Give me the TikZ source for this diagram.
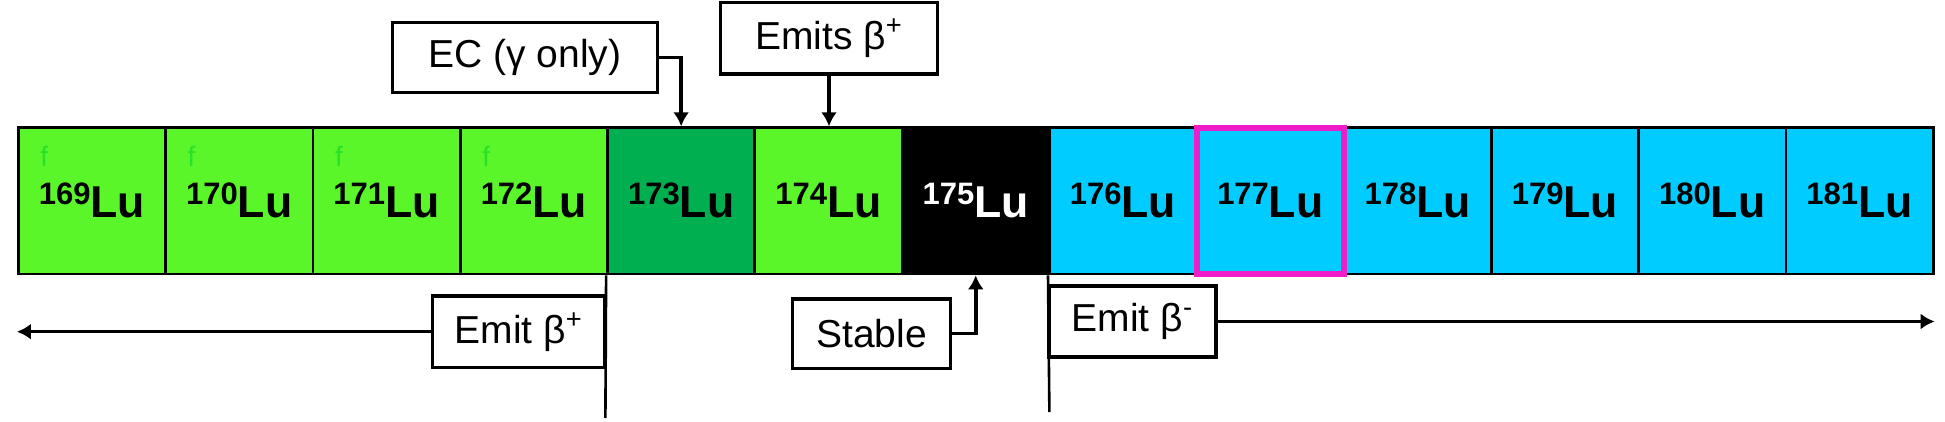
\documentclass[tikz,border=0pt]{standalone}
\usepackage{fontspec}
\setmainfont{Liberation Sans}
\usetikzlibrary{arrows.meta}

\definecolor{vertclair}{RGB}{90,246,42}
\definecolor{vertfonce}{RGB}{0,176,80}
\definecolor{bleuciel}{RGB}{0,204,255}
\definecolor{rose}{RGB}{240,30,200}
\definecolor{vertf}{RGB}{40,225,40}
\newcommand{\iso}[1]{\raisebox{6.5pt}{\fontsize{15.5pt}{16pt}\selectfont\bfseries #1}{\fontsize{22.3pt}{24pt}\selectfont\bfseries Lu}}

\begin{document}
\begin{tikzpicture}[x=0.5pt,y=-0.5pt]
	\tikzstyle{fleche}=[-{Latex[length=7pt,width=8pt]},line width=1.8pt]
	\tikzstyle{bord}=[-,line width=1.3pt]
	\tikzset{noyau/.style={draw,line width=1.4pt,minimum width=73.65pt,minimum height=73.15pt,inner sep=0pt,fill=#1},noyau/.default={vertclair}}
	\tikzset{etiquette/.style={draw,fill=white,line width=1.6pt,inner sep=0pt,font=\fontsize{19.5pt}{21pt}\selectfont}}
	\tikzset{fmark/.style={text=vertf,inner sep=0pt,anchor=base west,font=\fontsize{14pt}{14pt}\selectfont}}
	\useasboundingbox (0,0) rectangle (1945,422);
	% isotopes
	\node[noyau] (c169) at (91.95,200.85) {\iso{169}};
	\node[noyau] (c170) at (239.25,200.85) {\iso{170}};
	\node[noyau] (c171) at (386.55,200.85) {\iso{171}};
	\node[noyau] (c172) at (533.85,200.85) {\iso{172}};
	\node[noyau=vertfonce] (c173) at (681.15,200.85) {\iso{173}};
	\node[noyau] (c174) at (828.45,200.85) {\iso{174}};
	\node[noyau=black,text=white] (c175) at (975.75,200.85) {\iso{175}};
	\node[noyau=bleuciel] (c176) at (1123.05,200.85) {\iso{176}};
	\node[noyau=bleuciel] (c178) at (1417.65,200.85) {\iso{178}};
	\node[noyau=bleuciel] (c179) at (1564.95,200.85) {\iso{179}};
	\node[noyau=bleuciel] (c180) at (1712.25,200.85) {\iso{180}};
	\node[noyau=bleuciel] (c181) at (1859.55,200.85) {\iso{181}};
	\node[noyau=bleuciel,draw=rose,line width=3pt] (c177) at (1270.35,200.85) {\iso{177}};
	\node[fmark] (f169) at (40,167) {f};
	\node[fmark] (f170) at (187.3,167) {f};
	\node[fmark] (f171) at (334.6,167) {f};
	\node[fmark] (f172) at (481.9,167) {f};
	% labels
	\node[etiquette,minimum width=132.5pt,minimum height=35.2pt] (ec) at (524.8,57.5) {EC (γ only)};
	\node[etiquette,minimum width=108.3pt,minimum height=35.65pt] (emits) at (829,38.35) {Emits β\textsuperscript{+}};
	\node[etiquette,minimum width=86.35pt,minimum height=35.65pt] (emitp) at (518.7,331.7) {Emit β\textsuperscript{+}};
	\node[etiquette,minimum width=79.2pt,minimum height=34.65pt] (stable) at (871.5,333.7) {Stable};
	\node[etiquette,minimum width=83.5pt,minimum height=35.5pt] (emitm) at (1132.5,321.5) {Emit β\textsuperscript{-}};
	\coordinate (lend) at (605.4,418);
	\coordinate (rend) at (1049.4,412);
	\draw[fleche] (ec.east) -| (c173.north);
	\draw[fleche] (emits.south) -- (emits.south |- c174.north);
	\draw[fleche] (stable.east) -| (c175.south);
	\draw[bord] (c173.south west) -- (lend);
	\draw[bord] (c176.south west) -- (rend);
	\draw[fleche] (emitp.west) -- (emitp.west -| c169.west);
	\draw[fleche] (emitm.east) -- (emitm.east -| c181.east);
\end{tikzpicture}
\end{document}
